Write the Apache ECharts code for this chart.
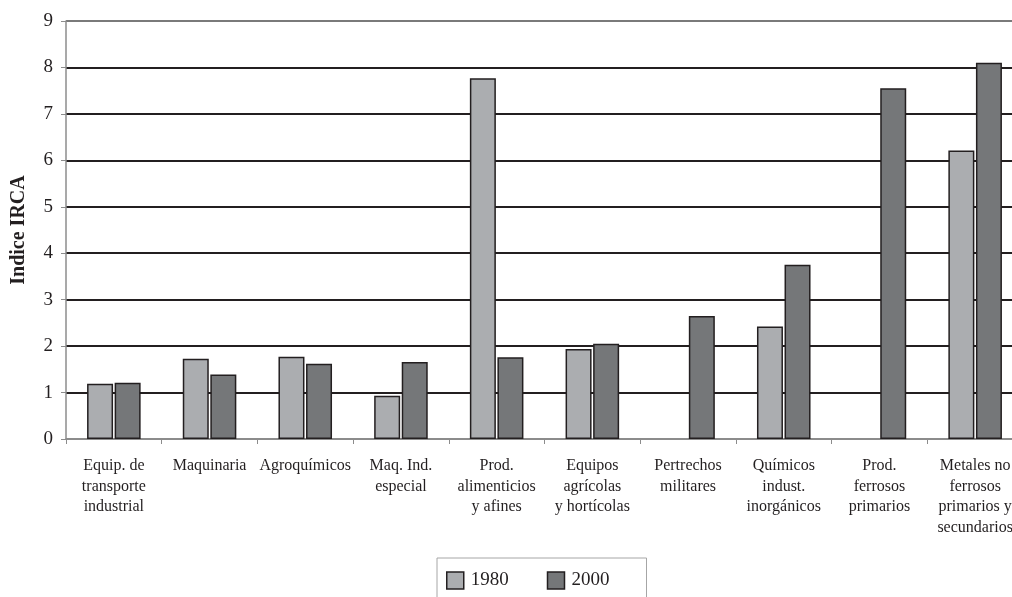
<!DOCTYPE html>
<html>
<head>
<meta charset="utf-8">
<script src="https://cdn.jsdelivr.net/npm/echarts@6/dist/echarts.min.js"></script>
<style>
  html, body { margin: 0; padding: 0; background: #fff; overflow: hidden; }
  #chart { width: 1012px; height: 597px; }
</style>
</head>
<body>
<div id="chart"></div>
<script>
// Sectors (category axis labels, with line breaks)
const categories = [
  'Equip. de\ntransporte\nindustrial',
  'Maquinaria',
  'Agroquímicos',
  'Maq. Ind.\nespecial',
  'Prod.\nalimenticios\ny afines',
  'Equipos\nagrícolas\ny hortícolas',
  'Pertrechos\nmilitares',
  'Químicos\nindust.\ninorgánicos',
  'Prod.\nferrosos\nprimarios',
  'Metales no\nferrosos\nprimarios y\nsecundarios'
];

// IRCA index by year (null = no value)
const values1980 = [1.19, 1.73, 1.77, 0.93, 7.77, 1.94, null, 2.42, null, 6.21];
const values2000 = [1.21, 1.39, 1.62, 1.66, 1.76, 2.05, 2.65, 3.75, 7.55, 8.10];

const seriesNames = ['1980', '2000'];
const yTicks = { min: 0, max: 9, interval: 1 };

const serif = '"Liberation Serif", "DejaVu Serif", serif';
const colors = ['#abadb0', '#757779'];
const edge = '#231f20';

const chart = echarts.init(document.getElementById('chart'));

chart.setOption({
  animation: false,
  backgroundColor: '#ffffff',
  // plot area runs a little past the right edge of the canvas
  grid: { left: 66, width: 957, top: 21, bottom: 158, containLabel: false, outerBoundsMode: 'none' },
  legend: {
    data: seriesNames,
    top: 558,
    left: 437,
    orient: 'horizontal',
    icon: 'rect',
    itemWidth: 17,
    itemHeight: 17,
    itemGap: 38,
    padding: [13, 37, 14, 9],
    borderColor: '#a6a6a6',
    borderWidth: 1,
    textStyle: { fontFamily: serif, fontSize: 19, color: '#231f20', padding: [0, 0, 0, 2] },
    itemStyle: { borderColor: edge, borderWidth: 1.5 }
  },
  xAxis: {
    type: 'category',
    data: categories,
    boundaryGap: true,
    axisLine: { lineStyle: { color: '#8c8c8c', width: 1.5 } },
    axisTick: { show: true, interval: 0, length: 5, lineStyle: { color: '#8c8c8c' } },
    axisLabel: {
      interval: 0,
      margin: 17,
      fontFamily: serif,
      fontSize: 16,
      lineHeight: 20.5,
      color: '#231f20'
    },
    splitLine: { show: false }
  },
  yAxis: {
    type: 'value',
    min: yTicks.min,
    max: yTicks.max,
    interval: yTicks.interval,
    name: 'Indice IRCA',
    nameLocation: 'middle',
    nameGap: 37,
    nameTextStyle: { fontFamily: serif, fontSize: 20, fontWeight: 'bold', color: '#231f20' },
    axisLine: { show: true, lineStyle: { color: '#8c8c8c', width: 1.5 } },
    axisTick: { show: true, length: 5, lineStyle: { color: '#8c8c8c' } },
    axisLabel: { fontFamily: serif, fontSize: 19, color: '#231f20', margin: 13 },
    splitLine: {
      show: true,
      lineStyle: {
        color: ['#8c8c8c', '#231f20', '#231f20', '#231f20', '#231f20', '#231f20', '#231f20', '#231f20', '#231f20', '#7a7a7a'],
        width: 2
      }
    }
  },
  series: [
    {
      name: seriesNames[0],
      type: 'bar',
      data: values1980,
      barWidth: 26,
      barGap: '6%',
      itemStyle: { color: colors[0], borderColor: edge, borderWidth: 1.5 }
    },
    {
      name: seriesNames[1],
      type: 'bar',
      data: values2000,
      barWidth: 26,
      barGap: '6%',
      itemStyle: { color: colors[1], borderColor: edge, borderWidth: 1.5 }
    }
  ]
});
</script>
</body>
</html>
